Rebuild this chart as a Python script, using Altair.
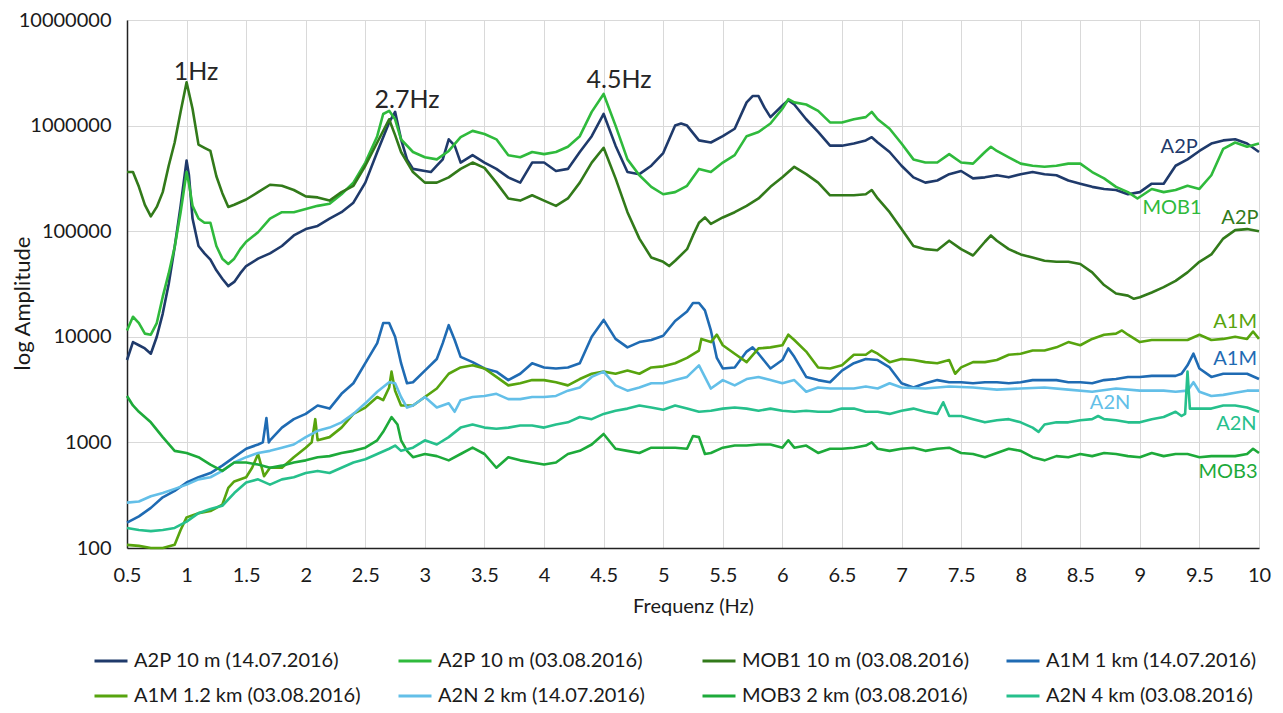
import altair as alt
import pandas as pd

# (frequency Hz, log10 amplitude)
A2P_1407 = [(0.5,3.78),(0.55,3.95),(0.6,3.92),(0.65,3.89),(0.7,3.84),(0.75,4.0),(0.8,4.22),(0.85,4.5),(0.9,4.85),(0.95,5.24),(1.0,5.67),(1.02,5.53),(1.05,5.12),(1.1,4.86),(1.15,4.79),(1.2,4.73),(1.25,4.63),(1.3,4.55),(1.35,4.48),(1.4,4.52),(1.45,4.60),(1.5,4.67),(1.6,4.74),(1.7,4.79),(1.8,4.86),(1.9,4.96),(2.0,5.02),(2.1,5.05),(2.2,5.12),(2.3,5.18),(2.4,5.27),(2.5,5.46),(2.6,5.75),(2.7,6.03),(2.75,6.13),(2.8,5.87),(2.85,5.68),(2.9,5.59),(3.0,5.57),(3.05,5.56),(3.1,5.62),(3.15,5.68),(3.2,5.87),(3.25,5.81),(3.3,5.65),(3.4,5.72),(3.5,5.65),(3.6,5.59),(3.7,5.51),(3.8,5.46),(3.9,5.65),(4.0,5.65),(4.1,5.57),(4.2,5.59),(4.3,5.75),(4.4,5.9),(4.5,6.11),(4.6,5.81),(4.7,5.56),(4.8,5.54),(4.9,5.62),(5.0,5.74),(5.1,6.0),(5.15,6.02),(5.2,6.0),(5.3,5.86),(5.4,5.84),(5.5,5.9),(5.6,5.97),(5.7,6.22),(5.75,6.28),(5.8,6.28),(5.85,6.17),(5.9,6.08),(6.0,6.19),(6.05,6.24),(6.1,6.2),(6.2,6.06),(6.3,5.94),(6.4,5.81),(6.5,5.81),(6.6,5.83),(6.7,5.86),(6.75,5.89),(6.8,5.84),(6.9,5.75),(7.0,5.62),(7.1,5.51),(7.2,5.46),(7.3,5.48),(7.4,5.54),(7.5,5.57),(7.6,5.5),(7.7,5.51),(7.8,5.53),(7.9,5.51),(8.0,5.54),(8.1,5.56),(8.2,5.54),(8.3,5.53),(8.4,5.48),(8.5,5.45),(8.6,5.42),(8.7,5.40),(8.8,5.39),(8.9,5.35),(9.0,5.37),(9.1,5.45),(9.2,5.45),(9.3,5.62),(9.4,5.68),(9.5,5.76),(9.6,5.83),(9.7,5.86),(9.8,5.87),(9.9,5.83),(10.0,5.75)]

A2P_0308 = [(0.5,4.06),(0.55,4.19),(0.6,4.13),(0.65,4.03),(0.7,4.02),(0.75,4.13),(0.8,4.38),(0.85,4.6),(0.9,4.85),(0.95,5.18),(1.0,5.56),(1.02,5.45),(1.05,5.24),(1.1,5.12),(1.15,5.08),(1.2,5.08),(1.25,4.86),(1.3,4.74),(1.35,4.69),(1.4,4.74),(1.45,4.83),(1.5,4.9),(1.6,4.99),(1.7,5.12),(1.8,5.18),(1.9,5.18),(2.0,5.21),(2.1,5.24),(2.2,5.26),(2.3,5.35),(2.4,5.46),(2.5,5.65),(2.6,5.9),(2.65,6.11),(2.7,6.14),(2.75,6.06),(2.8,5.87),(2.9,5.75),(3.0,5.70),(3.1,5.68),(3.2,5.76),(3.3,5.89),(3.4,5.95),(3.5,5.92),(3.6,5.87),(3.7,5.72),(3.8,5.70),(3.9,5.75),(4.0,5.73),(4.1,5.75),(4.2,5.8),(4.3,5.9),(4.4,6.13),(4.5,6.30),(4.6,6.0),(4.7,5.68),(4.8,5.53),(4.9,5.42),(5.0,5.35),(5.1,5.37),(5.2,5.43),(5.3,5.59),(5.4,5.56),(5.5,5.65),(5.6,5.72),(5.7,5.9),(5.8,5.94),(5.9,6.02),(6.0,6.16),(6.05,6.25),(6.1,6.22),(6.2,6.2),(6.3,6.14),(6.4,6.03),(6.5,6.03),(6.6,6.06),(6.7,6.08),(6.75,6.13),(6.8,6.06),(6.9,5.97),(7.0,5.83),(7.1,5.68),(7.2,5.65),(7.3,5.65),(7.4,5.73),(7.5,5.65),(7.6,5.64),(7.7,5.75),(7.75,5.8),(7.8,5.76),(7.9,5.70),(8.0,5.64),(8.1,5.62),(8.2,5.61),(8.3,5.62),(8.4,5.64),(8.5,5.64),(8.6,5.56),(8.7,5.5),(8.8,5.42),(8.9,5.37),(8.98,5.31),(9.1,5.40),(9.2,5.37),(9.3,5.39),(9.4,5.43),(9.5,5.40),(9.6,5.53),(9.7,5.78),(9.8,5.84),(9.9,5.8),(10.0,5.83)]

MOB1_0308 = [(0.5,5.56),(0.55,5.56),(0.6,5.42),(0.65,5.25),(0.7,5.14),(0.75,5.23),(0.8,5.37),(0.85,5.62),(0.9,5.84),(0.95,6.13),(1.0,6.41),(1.05,6.16),(1.1,5.82),(1.15,5.79),(1.2,5.76),(1.25,5.52),(1.3,5.36),(1.35,5.23),(1.4,5.25),(1.5,5.30),(1.6,5.37),(1.7,5.44),(1.8,5.43),(1.9,5.39),(2.0,5.33),(2.1,5.32),(2.2,5.29),(2.3,5.37),(2.4,5.43),(2.5,5.62),(2.6,5.84),(2.7,6.06),(2.75,5.91),(2.8,5.75),(2.9,5.56),(3.0,5.46),(3.1,5.46),(3.2,5.51),(3.3,5.59),(3.4,5.65),(3.5,5.60),(3.6,5.46),(3.7,5.31),(3.8,5.29),(3.9,5.34),(4.0,5.29),(4.1,5.24),(4.2,5.31),(4.3,5.46),(4.4,5.65),(4.5,5.79),(4.6,5.5),(4.7,5.18),(4.8,4.93),(4.9,4.75),(5.0,4.71),(5.05,4.67),(5.1,4.72),(5.2,4.83),(5.25,4.96),(5.3,5.08),(5.35,5.13),(5.4,5.07),(5.5,5.13),(5.6,5.18),(5.7,5.24),(5.8,5.31),(5.9,5.42),(6.0,5.51),(6.1,5.61),(6.2,5.54),(6.3,5.46),(6.4,5.34),(6.5,5.34),(6.6,5.34),(6.7,5.35),(6.75,5.39),(6.8,5.31),(6.9,5.18),(7.0,5.02),(7.1,4.86),(7.2,4.83),(7.3,4.82),(7.4,4.91),(7.5,4.83),(7.6,4.77),(7.7,4.90),(7.75,4.96),(7.8,4.91),(7.9,4.83),(8.0,4.78),(8.1,4.75),(8.2,4.72),(8.3,4.71),(8.4,4.71),(8.5,4.69),(8.6,4.61),(8.7,4.49),(8.8,4.41),(8.9,4.39),(8.95,4.36),(9.0,4.375),(9.1,4.42),(9.2,4.47),(9.3,4.53),(9.4,4.61),(9.5,4.71),(9.6,4.78),(9.7,4.93),(9.8,5.01),(9.9,5.02),(10.0,5.0)]

A1M_1km = [(0.5,2.24),(0.6,2.30),(0.7,2.38),(0.8,2.48),(0.9,2.54),(1.0,2.62),(1.1,2.67),(1.2,2.71),(1.3,2.78),(1.4,2.86),(1.5,2.94),(1.6,2.98),(1.64,3.0),(1.67,3.23),(1.69,3.0),(1.7,3.02),(1.8,3.14),(1.9,3.22),(2.0,3.27),(2.1,3.35),(2.2,3.32),(2.3,3.46),(2.4,3.56),(2.5,3.75),(2.6,3.94),(2.65,4.13),(2.7,4.13),(2.75,4.0),(2.8,3.75),(2.85,3.56),(2.9,3.57),(3.0,3.68),(3.1,3.79),(3.15,3.94),(3.2,4.11),(3.25,3.97),(3.3,3.81),(3.4,3.76),(3.5,3.70),(3.6,3.67),(3.7,3.59),(3.8,3.65),(3.9,3.75),(4.0,3.71),(4.1,3.70),(4.2,3.71),(4.3,3.75),(4.4,4.0),(4.5,4.16),(4.6,3.98),(4.7,3.90),(4.8,3.95),(4.9,3.97),(5.0,4.01),(5.1,4.15),(5.2,4.24),(5.25,4.32),(5.3,4.32),(5.35,4.25),(5.4,4.06),(5.45,3.8),(5.5,3.70),(5.6,3.71),(5.7,3.86),(5.75,3.90),(5.8,3.84),(5.9,3.70),(6.0,3.78),(6.05,3.89),(6.1,3.81),(6.2,3.62),(6.3,3.59),(6.4,3.57),(6.5,3.68),(6.6,3.75),(6.7,3.79),(6.8,3.78),(6.9,3.71),(7.0,3.56),(7.1,3.52),(7.2,3.56),(7.3,3.59),(7.4,3.57),(7.5,3.57),(7.6,3.56),(7.7,3.57),(7.8,3.57),(7.9,3.56),(8.0,3.57),(8.1,3.59),(8.2,3.59),(8.3,3.59),(8.4,3.57),(8.5,3.57),(8.6,3.56),(8.7,3.59),(8.8,3.60),(8.9,3.62),(9.0,3.62),(9.1,3.63),(9.2,3.63),(9.3,3.63),(9.35,3.65),(9.4,3.73),(9.45,3.84),(9.5,3.70),(9.6,3.62),(9.7,3.65),(9.8,3.65),(9.9,3.65),(10.0,3.60)]

A1M_12km = [(0.5,2.03),(0.6,2.02),(0.7,2.0),(0.8,2.0),(0.9,2.03),(0.95,2.17),(1.0,2.29),(1.1,2.33),(1.2,2.35),(1.3,2.41),(1.35,2.57),(1.4,2.63),(1.5,2.67),(1.55,2.76),(1.6,2.89),(1.65,2.68),(1.7,2.76),(1.8,2.76),(1.9,2.86),(2.0,2.95),(2.05,3.0),(2.08,3.22),(2.1,3.02),(2.2,3.05),(2.3,3.14),(2.4,3.27),(2.5,3.33),(2.6,3.43),(2.65,3.40),(2.7,3.52),(2.72,3.67),(2.75,3.49),(2.8,3.35),(2.9,3.35),(3.0,3.43),(3.1,3.51),(3.2,3.65),(3.3,3.71),(3.4,3.73),(3.5,3.70),(3.6,3.62),(3.7,3.54),(3.8,3.56),(3.9,3.59),(4.0,3.59),(4.1,3.57),(4.2,3.54),(4.3,3.60),(4.4,3.65),(4.5,3.67),(4.6,3.65),(4.7,3.68),(4.8,3.65),(4.9,3.71),(5.0,3.72),(5.1,3.75),(5.2,3.8),(5.3,3.87),(5.32,3.98),(5.4,3.95),(5.45,4.02),(5.5,3.92),(5.6,3.84),(5.7,3.76),(5.8,3.89),(5.9,3.90),(6.0,3.92),(6.05,4.02),(6.1,3.97),(6.2,3.86),(6.3,3.71),(6.4,3.70),(6.5,3.73),(6.6,3.83),(6.7,3.83),(6.75,3.87),(6.8,3.84),(6.9,3.76),(7.0,3.79),(7.1,3.78),(7.2,3.76),(7.3,3.75),(7.4,3.78),(7.45,3.65),(7.5,3.71),(7.6,3.76),(7.7,3.76),(7.8,3.78),(7.9,3.83),(8.0,3.84),(8.1,3.87),(8.2,3.87),(8.3,3.90),(8.4,3.95),(8.5,3.92),(8.6,3.98),(8.7,4.02),(8.8,4.03),(8.85,4.06),(8.9,4.02),(9.0,3.95),(9.1,3.97),(9.2,3.97),(9.3,3.97),(9.4,3.97),(9.5,4.02),(9.6,3.97),(9.7,3.98),(9.8,4.0),(9.9,3.98),(9.95,4.05),(10.0,3.98)]

A2N_2km = [(0.5,2.43),(0.6,2.44),(0.7,2.49),(0.8,2.52),(0.9,2.56),(1.0,2.60),(1.1,2.65),(1.2,2.67),(1.3,2.73),(1.4,2.81),(1.5,2.86),(1.6,2.90),(1.7,2.92),(1.8,2.95),(1.9,2.98),(2.0,3.05),(2.1,3.11),(2.2,3.14),(2.3,3.19),(2.4,3.27),(2.5,3.37),(2.6,3.48),(2.7,3.57),(2.75,3.56),(2.8,3.43),(2.85,3.33),(2.9,3.35),(3.0,3.43),(3.1,3.33),(3.2,3.37),(3.25,3.29),(3.3,3.40),(3.4,3.43),(3.5,3.44),(3.6,3.46),(3.7,3.41),(3.8,3.41),(3.9,3.43),(4.0,3.43),(4.1,3.44),(4.2,3.49),(4.3,3.52),(4.4,3.62),(4.5,3.67),(4.6,3.54),(4.7,3.49),(4.8,3.52),(4.9,3.56),(5.0,3.56),(5.1,3.59),(5.2,3.62),(5.3,3.73),(5.4,3.51),(5.5,3.59),(5.6,3.54),(5.7,3.60),(5.8,3.62),(5.9,3.59),(6.0,3.56),(6.1,3.59),(6.2,3.48),(6.3,3.52),(6.4,3.51),(6.5,3.51),(6.6,3.51),(6.7,3.53),(6.8,3.51),(6.9,3.56),(7.0,3.52),(7.2,3.51),(7.4,3.53),(7.6,3.52),(7.8,3.50),(8.0,3.51),(8.2,3.52),(8.4,3.50),(8.6,3.48),(8.8,3.51),(9.0,3.49),(9.2,3.49),(9.3,3.48),(9.4,3.49),(9.45,3.57),(9.5,3.48),(9.6,3.44),(9.7,3.45),(9.8,3.47),(9.9,3.49),(10.0,3.49)]

MOB3_2km = [(0.5,3.44),(0.55,3.35),(0.6,3.29),(0.7,3.19),(0.8,3.05),(0.9,2.92),(1.0,2.90),(1.1,2.86),(1.2,2.79),(1.3,2.73),(1.4,2.81),(1.5,2.81),(1.6,2.79),(1.7,2.76),(1.8,2.78),(1.9,2.81),(2.0,2.83),(2.1,2.86),(2.2,2.87),(2.3,2.90),(2.4,2.92),(2.5,2.95),(2.6,3.02),(2.65,3.10),(2.72,3.24),(2.77,3.17),(2.8,3.02),(2.85,2.92),(2.9,2.86),(3.0,2.89),(3.1,2.87),(3.2,2.83),(3.3,2.89),(3.4,2.95),(3.5,2.89),(3.6,2.76),(3.7,2.86),(3.8,2.83),(3.9,2.81),(4.0,2.79),(4.1,2.81),(4.2,2.89),(4.3,2.92),(4.4,2.98),(4.5,3.08),(4.6,2.94),(4.7,2.92),(4.8,2.90),(4.9,2.95),(5.0,2.95),(5.1,2.95),(5.2,2.94),(5.25,3.06),(5.3,3.05),(5.35,2.89),(5.4,2.9),(5.5,2.95),(5.6,2.97),(5.7,2.97),(5.8,2.98),(5.9,2.98),(6.0,2.95),(6.05,3.02),(6.1,2.95),(6.2,2.97),(6.3,2.90),(6.4,2.94),(6.5,2.94),(6.6,2.95),(6.7,2.97),(6.75,3.0),(6.8,2.94),(6.9,2.92),(7.0,2.94),(7.1,2.95),(7.2,2.92),(7.3,2.94),(7.4,2.95),(7.5,2.90),(7.6,2.89),(7.7,2.86),(7.8,2.90),(7.9,2.94),(8.0,2.92),(8.1,2.86),(8.2,2.83),(8.3,2.87),(8.4,2.86),(8.5,2.89),(8.6,2.87),(8.7,2.90),(8.8,2.89),(8.9,2.87),(9.0,2.86),(9.1,2.90),(9.2,2.87),(9.3,2.89),(9.4,2.89),(9.5,2.86),(9.6,2.87),(9.7,2.87),(9.8,2.87),(9.9,2.89),(9.95,2.94),(10.0,2.90)]

A2N_4km = [(0.5,2.19),(0.6,2.17),(0.7,2.16),(0.8,2.17),(0.9,2.19),(1.0,2.25),(1.1,2.33),(1.2,2.37),(1.3,2.40),(1.4,2.52),(1.5,2.62),(1.6,2.65),(1.7,2.60),(1.8,2.65),(1.9,2.67),(2.0,2.71),(2.1,2.73),(2.2,2.71),(2.3,2.76),(2.4,2.81),(2.5,2.84),(2.6,2.89),(2.7,2.94),(2.75,2.97),(2.8,2.92),(2.9,2.95),(3.0,3.02),(3.1,2.98),(3.2,3.05),(3.3,3.14),(3.4,3.17),(3.5,3.14),(3.6,3.13),(3.7,3.14),(3.8,3.16),(3.9,3.16),(4.0,3.14),(4.1,3.17),(4.2,3.19),(4.3,3.24),(4.4,3.22),(4.5,3.27),(4.6,3.30),(4.7,3.32),(4.8,3.35),(4.9,3.33),(5.0,3.31),(5.1,3.35),(5.2,3.32),(5.3,3.29),(5.4,3.30),(5.5,3.32),(5.6,3.33),(5.7,3.32),(5.8,3.30),(5.9,3.32),(6.0,3.30),(6.1,3.29),(6.2,3.30),(6.3,3.29),(6.4,3.29),(6.5,3.32),(6.6,3.32),(6.7,3.29),(6.8,3.29),(6.9,3.27),(7.0,3.30),(7.1,3.32),(7.2,3.29),(7.3,3.27),(7.35,3.38),(7.4,3.25),(7.5,3.25),(7.6,3.22),(7.7,3.19),(7.8,3.21),(7.9,3.22),(8.0,3.19),(8.1,3.14),(8.15,3.10),(8.2,3.17),(8.3,3.19),(8.4,3.19),(8.5,3.21),(8.6,3.22),(8.65,3.25),(8.7,3.22),(8.8,3.21),(8.9,3.19),(9.0,3.19),(9.1,3.22),(9.2,3.24),(9.3,3.29),(9.35,3.25),(9.38,3.27),(9.4,3.67),(9.42,3.32),(9.5,3.32),(9.6,3.32),(9.7,3.35),(9.8,3.35),(9.9,3.33),(10.0,3.29)]

SERIES_NAMES = ["A2P 10 m (14.07.2016)", "A2P 10 m (03.08.2016)", "MOB1 10 m (03.08.2016)",
                "A1M 1 km (14.07.2016)", "A1M 1.2 km (03.08.2016)", "A2N 2 km (14.07.2016)",
                "MOB3 2 km (03.08.2016)", "A2N 4 km (03.08.2016)"]
SERIES_DATA = [A2P_1407, A2P_0308, MOB1_0308, A1M_1km, A1M_12km, A2N_2km, MOB3_2km, A2N_4km]
COLORS = ["#1f3a6b", "#2fba3c", "#327a1a", "#1f6bb3", "#57a40e", "#63bfe8", "#1daa3a", "#26c08c"]

# peak annotations
PEAK_TEXT = ["1Hz", "2.7Hz", "4.5Hz"]
PEAK_F = [1.08, 2.85, 4.63]
PEAK_LOG = [6.51, 6.24, 6.43]

# end-of-line labels
END_TEXT = ["A2P", "MOB1", "A2P", "A1M", "A1M", "A2N", "A2N", "MOB3"]
END_F = [9.33, 9.27, 9.84, 9.80, 9.80, 8.75, 9.81, 9.74]
END_LOG = [5.80, 5.22, 5.125, 4.14, 3.79, 3.37, 3.17, 2.72]
END_COLOR = ["#1f3a6b", "#2fba3c", "#327a1a", "#57a40e", "#1f6bb3", "#63bfe8", "#26c08c", "#1daa3a"]

X_TICKS = [0.5 * i for i in range(1, 21)]
Y_TICKS = [100, 1000, 10000, 100000, 1000000, 10000000]

rows = []
for si, (name, pts) in enumerate(zip(SERIES_NAMES, SERIES_DATA)):
    for f, lv in pts:
        rows.append({"series": name, "order": si, "f": f, "amp": 10 ** lv})
df = pd.DataFrame(rows)

peaks = pd.DataFrame({"t": PEAK_TEXT, "f": PEAK_F, "amp": [10 ** v for v in PEAK_LOG]})
ends = pd.DataFrame({"t": END_TEXT, "f": END_F, "amp": [10 ** v for v in END_LOG], "c": END_COLOR})

FONT = "Lato"
xscale = alt.Scale(domain=[0.5, 10], nice=False, zero=False)
yscale = alt.Scale(type="log", domain=[100, 10000000], nice=False)

lines = alt.Chart(df).mark_line(strokeWidth=2.6, strokeJoin="round").encode(
    x=alt.X("f:Q", scale=xscale, title="Frequenz (Hz)",
            axis=alt.Axis(values=X_TICKS, format="~g", grid=True, gridColor="#d9d9d9",
                          ticks=False, labelPadding=17, labelFontSize=20, labelFont=FONT,
                          labelColor="#1a1a1a", titleFont=FONT, titleFontSize=20,
                          titleFontWeight="normal", titleColor="#1a1a1a", titlePadding=11,
                          domainColor="#222222", domainWidth=1.5, labelFlush=False)),
    y=alt.Y("amp:Q", scale=yscale, title="log Amplitude",
            axis=alt.Axis(values=Y_TICKS, format="d", grid=True, gridColor="#d9d9d9",
                          ticks=False, labelPadding=16, labelFontSize=20, labelFont=FONT,
                          labelColor="#1a1a1a", titleFont=FONT, titleFontSize=22,
                          titleFontWeight="normal", titleColor="#1a1a1a",
                          titleX=-105, titleY=283, titleBaseline="middle",
                          domainColor="#222222", domainWidth=1.5)),
    color=alt.Color("series:N", scale=alt.Scale(domain=SERIES_NAMES, range=COLORS),
                    sort=SERIES_NAMES,
                    legend=alt.Legend(title=None, orient="none", legendX=-34, legendY=623,
                                      direction="horizontal", columns=4, columnPadding=30,
                                      rowPadding=7, gridAlign="all",
                                      symbolType="stroke", symbolStrokeWidth=3,
                                      symbolSize=1089, labelFont=FONT, labelFontSize=20,
                                      labelColor="#1a1a1a", labelOffset=5, padding=0,
                                      labelLimit=400)),
    order="order:Q",
    detail="series:N",
)

peak_text = alt.Chart(peaks).mark_text(font=FONT, fontSize=25, color="#262626").encode(
    x=alt.X("f:Q", scale=xscale), y=alt.Y("amp:Q", scale=yscale), text="t:N")

end_text = alt.Chart(ends).mark_text(font=FONT, fontSize=20).encode(
    x=alt.X("f:Q", scale=xscale), y=alt.Y("amp:Q", scale=yscale), text="t:N",
    color=alt.Color("c:N", scale=None, legend=None))

chart = alt.layer(lines, peak_text, end_text).properties(
    width=1132, height=528,
    autosize=alt.AutoSizeParams(type="none"),
    padding={"left": 119, "top": 12, "right": 16, "bottom": 157},
).configure_view(stroke="#222222", strokeWidth=1.5).configure(background="white")

chart.save("out.html", embed_options={"renderer": "svg", "actions": False})
